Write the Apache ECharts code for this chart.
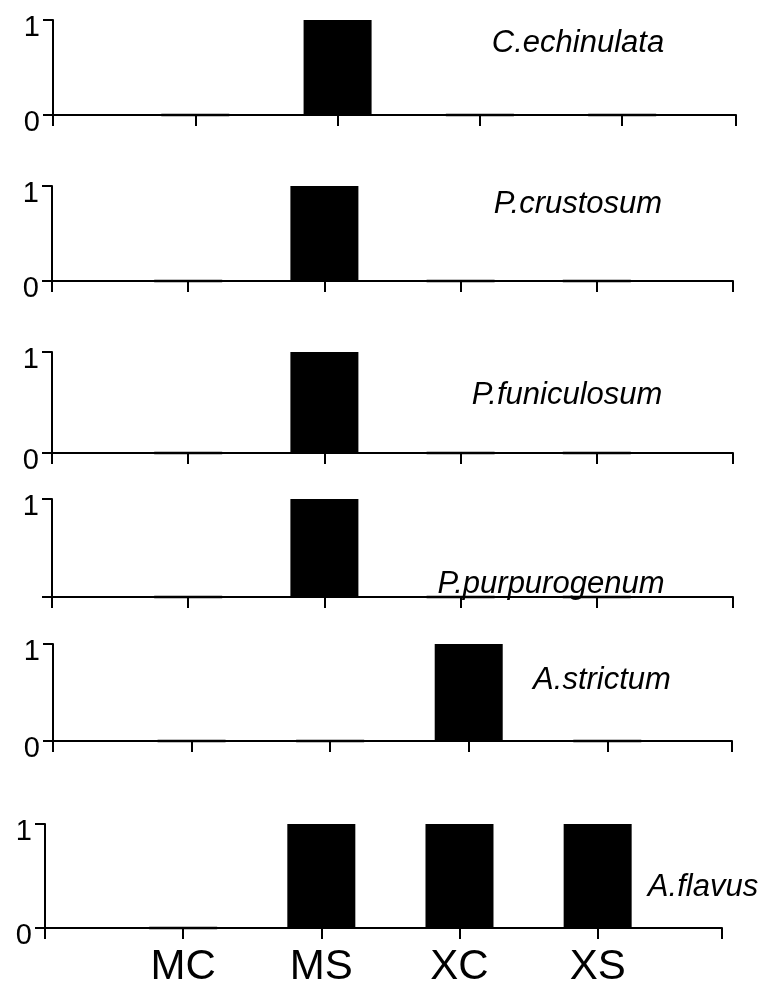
<!DOCTYPE html>
<html>
<head>
<meta charset="utf-8">
<script src="https://cdn.jsdelivr.net/npm/echarts@6/dist/echarts.min.js"></script>
<style>
html,body{margin:0;padding:0;background:#fff;}
#c{width:770px;height:995px;}
</style>
</head>
<body>
<div id="c"></div>
<script>
// ---- data ----
const categories = ['MC', 'MS', 'XC', 'XS'];
const species = ['C.echinulata', 'P.crustosum', 'P.funiculosum', 'P.purpurogenum', 'A.strictum', 'A.flavus'];
const cEchinulata   = [0, 1, 0, 0];
const pCrustosum    = [0, 1, 0, 0];
const pFuniculosum  = [0, 1, 0, 0];
const pPurpurogenum = [0, 1, 0, 0];
const aStrictum     = [0, 0, 1, 0];
const aFlavus       = [0, 1, 1, 1];
const yTicks = [0, 1];

const seriesValues = [cEchinulata, pCrustosum, pFuniculosum, pPurpurogenum, aStrictum, aFlavus];

// ---- layout (per panel) ----
const panels = [
  {left: 53, right: 34, top: 20,  height: 95,  xMax: 4.8,  tx: 578, ty: 43},
  {left: 52, right: 37, top: 186, height: 95,  xMax: 5,    tx: 578, ty: 204},
  {left: 52, right: 37, top: 352, height: 101, xMax: 5,    tx: 567, ty: 395},
  {left: 52, right: 37, top: 499, height: 98,  xMax: 5,    tx: 551, ty: 584},
  {left: 53, right: 38, top: 644, height: 97,  xMax: 4.9,  tx: 602, ty: 680},
  {left: 45, right: 48, top: 824, height: 104, xMax: 4.9,  tx: 703, ty: 887}
];

const FONT = "'Liberation Sans', Arial, sans-serif";

const chart = echarts.init(document.getElementById('c'), null, {renderer: 'canvas'});

const grid = [], xAxis = [], yAxis = [], series = [], graphic = [];
panels.forEach((p, i) => {
  grid.push({left: p.left, right: p.right, top: p.top, height: p.height, containLabel: false});
  const isLast = i === panels.length - 1;
  xAxis.push({
    type: 'value', gridIndex: i, min: 0, max: p.xMax, interval: 1,
    axisLine: {show: true, onZero: false, lineStyle: {color: '#000', width: 2}},
    axisTick: {show: true, length: 11, lineStyle: {color: '#000', width: 2}},
    splitLine: {show: false},
    axisLabel: {
      show: isLast, margin: 18, fontSize: 42, color: '#000', fontFamily: FONT,
      showMinLabel: true, showMaxLabel: true,
      formatter: v => (Number.isInteger(v) && v >= 1 && v <= categories.length) ? categories[v - 1] : ''
    }
  });
  yAxis.push({
    type: 'value', gridIndex: i, min: yTicks[0], max: yTicks[yTicks.length - 1], interval: 1,
    axisLine: {show: true, lineStyle: {color: '#000', width: 2}},
    axisTick: {show: true, length: 10, lineStyle: {color: '#000', width: 2}},
    splitLine: {show: false},
    axisLabel: {
      margin: 13, fontSize: 29, color: '#000', fontFamily: FONT,
      verticalAlign: 'top', lineHeight: 16,
      formatter: v => (i === 3 && v === 0) ? '' : String(v)
    }
  });
  series.push({
    type: 'bar', xAxisIndex: i, yAxisIndex: i, barWidth: 68,
    data: seriesValues[i].map((v, k) => [k + 1, v]),
    itemStyle: {color: '#000', borderColor: '#000', borderWidth: 2.5},
    silent: true, animation: false
  });
  graphic.push({
    type: 'text', x: p.tx, y: p.ty, z: 100,
    style: {text: species[i], fontSize: 31, fontStyle: 'italic', fontFamily: FONT, fill: '#000',
            textAlign: 'center', textVerticalAlign: 'middle'}
  });
});

chart.setOption({
  backgroundColor: '#fff',
  animation: false,
  grid, xAxis, yAxis, series, graphic
});
</script>
</body>
</html>
